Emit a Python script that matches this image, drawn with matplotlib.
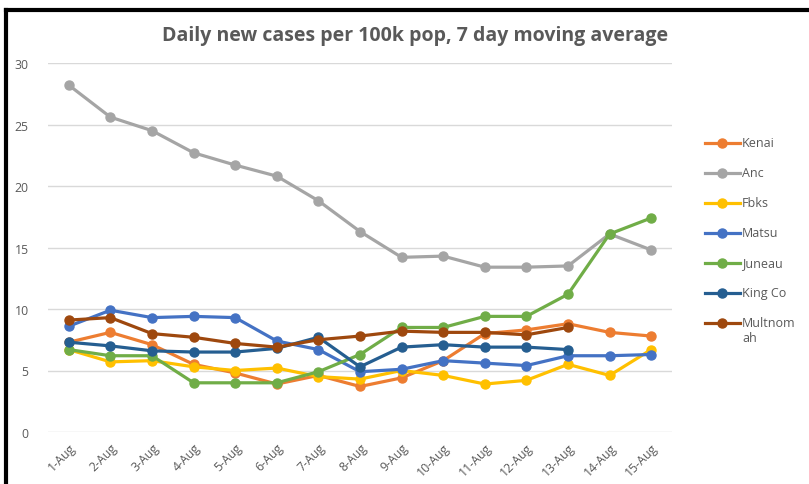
import matplotlib
matplotlib.use("Agg")
import matplotlib.pyplot as plt
from matplotlib.lines import Line2D

days = ["1-Aug", "2-Aug", "3-Aug", "4-Aug", "5-Aug", "6-Aug", "7-Aug", "8-Aug",
        "9-Aug", "10-Aug", "11-Aug", "12-Aug", "13-Aug", "14-Aug", "15-Aug"]

kenai = [7.3, 8.1, 7.1, 5.5, 4.8, 3.9, 4.6, 3.7, 4.4, 5.8, 8.0, 8.3, 8.8, 8.1, 7.8]
anc = [28.2, 25.6, 24.5, 22.7, 21.7, 20.8, 18.8, 16.3, 14.2, 14.3, 13.4, 13.4, 13.5, 16.1, 14.8]
fbks = [6.7, 5.7, 5.8, 5.3, 5.0, 5.2, 4.5, 4.3, 5.0, 4.6, 3.9, 4.2, 5.5, 4.6, 6.7]
matsu = [8.6, 9.9, 9.3, 9.4, 9.3, 7.4, 6.7, 4.9, 5.1, 5.8, 5.6, 5.4, 6.2, 6.2, 6.3]
juneau = [6.7, 6.2, 6.2, 4.0, 4.0, 4.0, 4.9, 6.3, 8.5, 8.5, 9.4, 9.4, 11.2, 16.1, 17.4]
king_co = [7.3, 7.0, 6.6, 6.5, 6.5, 6.8, 7.7, 5.3, 6.9, 7.1, 6.9, 6.9, 6.7]
multnomah = [9.1, 9.3, 8.0, 7.7, 7.2, 6.9, 7.5, 7.8, 8.2, 8.1, 8.1, 7.9, 8.5]

series = [
    ("Kenai", kenai, "#ED7D31"),
    ("Anc", anc, "#A5A5A5"),
    ("Fbks", fbks, "#FFC000"),
    ("Matsu", matsu, "#4472C4"),
    ("Juneau", juneau, "#70AD47"),
    ("King Co", king_co, "#255E91"),
    ("Multnom\nah", multnomah, "#9E480E"),
]

plt.rcParams["font.family"] = ["Open Sans", "DejaVu Sans"]
txt = "#595959"
W, H = 809, 485

fig = plt.figure(figsize=(W / 100, H / 100), dpi=100)
ax = fig.add_axes([48 / W, 52 / H, 624 / W, 369 / H])

for name, vals, col in series:
    ax.plot(range(len(vals)), vals, color=col, lw=2.3, marker="o", ms=6.5,
            solid_capstyle="round", zorder=3)

ax.set_xlim(-0.5, len(days) - 0.5)
ax.set_ylim(0, 30)
ax.set_yticks(range(0, 31, 5))
ax.set_xticks(range(len(days)))
ax.set_xticklabels(days, rotation=45, ha="right", rotation_mode="anchor")
ax.tick_params(length=0, colors=txt, labelsize=8.8)
ax.tick_params(axis="y", pad=14)
ax.tick_params(axis="x", pad=6)
ax.grid(axis="y", color="#D9D9D9", lw=1)
ax.set_axisbelow(True)
for s in ax.spines.values():
    s.set_visible(False)

fig.text(415 / W, 1 - 36 / H, "Daily new cases per 100k pop, 7 day moving average",
         ha="center", va="center", fontsize=14, fontweight="bold", color=txt)

# legend drawn by hand so the two-line label hangs below its key
for i, (name, vals, col) in enumerate(series):
    y = 1 - (144 + 30 * i) / H
    fig.add_artist(Line2D([705 / W, 740 / W], [y, y], color=col, lw=2.3))
    fig.add_artist(Line2D([722 / W], [y], color=col, marker="o", ms=6.5))
    fig.text(742 / W, y + 7 / H, name, ha="left", va="top", fontsize=9,
             color=txt, linespacing=1.2)

# black frame on top and left
fig.add_artist(Line2D([6 / W, 1], [1 - 11 / H, 1 - 11 / H], color="black", lw=3))
fig.add_artist(Line2D([6 / W, 6 / W], [0, 1 - 11 / H], color="black", lw=3))

fig.savefig("out.png", dpi=100)
